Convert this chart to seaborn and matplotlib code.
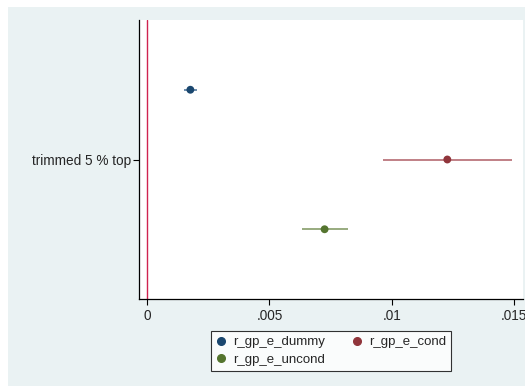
import matplotlib
matplotlib.use("Agg")
import matplotlib.pyplot as plt
from matplotlib.lines import Line2D
from matplotlib.patches import Rectangle
import pandas as pd
import seaborn as sns

# ========== Data ==========
series = ["r_gp_e_dummy", "r_gp_e_cond", "r_gp_e_uncond"]
coef = [0.00177, 0.01226, 0.00725]
ci_low = [0.00151, 0.00963, 0.00633]
ci_high = [0.00203, 0.01489, 0.00819]
offsets = [-0.25, 0.0, 0.25]
category = "trimmed 5 % top"
colors = ["#1a476f", "#90353b", "#55752f"]
ci_colors = ["#6d8cab", "#c08086", "#98ab7f"]

df = pd.DataFrame({"series": series, "coef": coef, "lo": ci_low, "hi": ci_high,
                   "y": [1 + o for o in offsets]})

# ========== Plot ==========
sns.set_style("white")
plt.rcParams["font.family"] = ["Liberation Sans", "DejaVu Sans"]

fig = plt.figure(figsize=(5.25, 3.86), dpi=100)
fig.patch.set_facecolor("white")
# graph region background (the image is a crop, leaving a white strip top/left)
fig.add_artist(Rectangle((8 / 525, 0), 1, 1 - 7 / 386, transform=fig.transFigure,
                         facecolor="#eaf2f3", edgecolor="none", zorder=0))

ax = fig.add_axes([139 / 525, 1 - 299 / 386, (523 - 139) / 525, (299 - 20) / 386])
ax.set_facecolor("white")

ax.axvline(0, color="#cf2350", lw=1.0, zorder=1)
ax.hlines(df["y"], df["lo"], df["hi"], colors=ci_colors, lw=1.4, zorder=2)
sns.scatterplot(data=df, x="coef", y="y", hue="series", palette=colors,
                s=32, edgecolor="none", legend=False, ax=ax, zorder=3)

ax.set_xlim(-0.000327, 0.01535)
ax.set_ylim(1.5, 0.5)
ax.set_xticks([0, 0.005, 0.01, 0.015])
ax.set_xticklabels(["0", ".005", ".01", ".015"])
ax.set_yticks([1])
ax.set_yticklabels([category])
ax.set_xlabel("")
ax.set_ylabel("")
ax.tick_params(axis="both", direction="out", length=4, width=0.8, color="black",
               labelsize=9.8, pad=1.5, bottom=True, left=True)
ax.tick_params(axis="x", pad=3)

for side in ["top", "right"]:
    ax.spines[side].set_visible(False)
for side in ["left", "bottom"]:
    ax.spines[side].set_color("black")
    ax.spines[side].set_linewidth(0.9)

handles = [Line2D([], [], marker="o", ls="none", color=colors[i], markersize=5.5)
           for i in [0, 2, 1]]
labels = [series[i] for i in [0, 2, 1]]
leg = fig.legend(handles, labels, ncol=2, loc="center", bbox_to_anchor=(0.6305, 0.0907),
                 frameon=True, fancybox=False, fontsize=9.5, handlelength=0.8,
                 handletextpad=0.5, columnspacing=2.0, labelspacing=0.4,
                 borderpad=0.4)
leg.get_frame().set_edgecolor("black")
leg.get_frame().set_linewidth(0.8)

fig.savefig("out.png", dpi=100, facecolor=fig.get_facecolor())
